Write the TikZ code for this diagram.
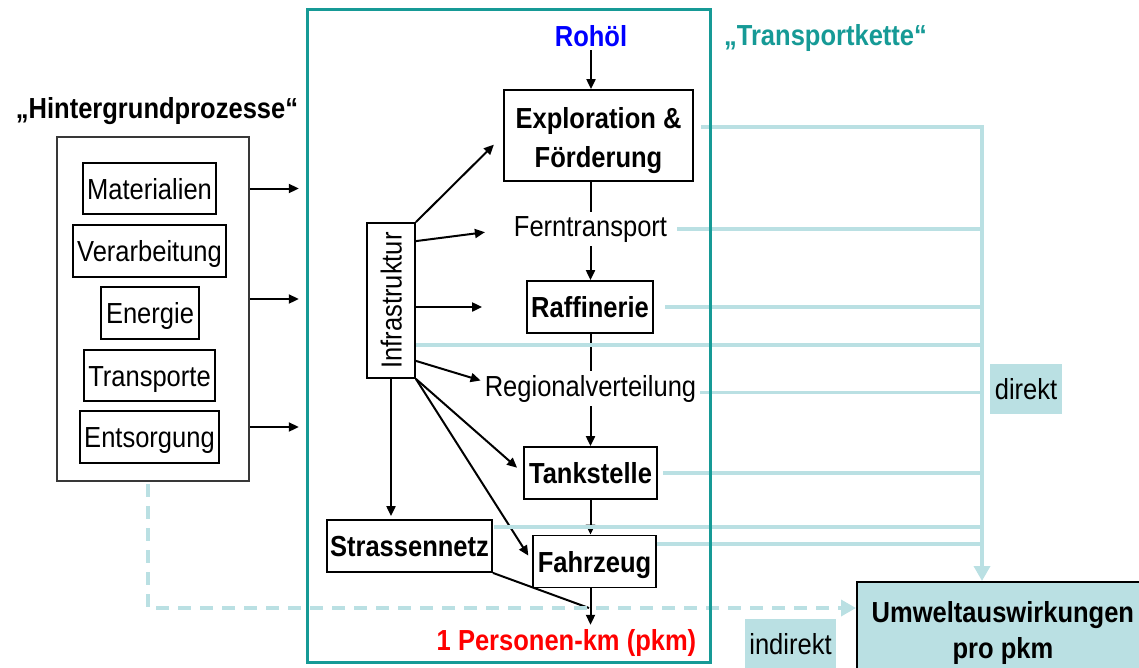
\documentclass[tikz,border=0pt]{standalone}
\usepackage{fontspec}
\setmainfont{Liberation Sans}[FakeStretch=0.88]
\usetikzlibrary{arrows.meta}

\definecolor{chainteal}{RGB}{22,154,150}
\definecolor{impactblue}{RGB}{186,224,227}
\newcommand{\chainsize}{\fontsize{29}{36}\selectfont}

\begin{document}
\begin{tikzpicture}[x=1pt,y=-1pt]

	\tikzstyle stage=[draw, line width=1.8pt, inner sep=0pt, font=\chainsize\bfseries];
	\tikzstyle source=[draw, line width=1.8pt, inner sep=0pt, font=\chainsize];
	\tikzstyle oneline=[text height=21pt, text depth=0pt];
	\tikzstyle label text=[inner sep=4pt, anchor=base, font=\chainsize];
	\tikzstyle flow line=[line width=2pt];
	\tikzstyle flow=[line width=2pt, -{Triangle[length=10pt,width=9pt]}];
	\tikzstyle impact=[line width=3.5pt, draw=impactblue];
	\tikzstyle impact tip=[-{Triangle[length=15pt,width=16pt]}];
	\tikzstyle indirect=[impact, dash pattern=on 13pt off 9pt, impact tip];
	\tikzstyle tag=[fill=impactblue, inner sep=0pt, oneline, font=\chainsize];

	\useasboundingbox (0,0) rectangle (1139,667);

	% Transportkette
	\node[inner sep=0pt, minimum width=402, minimum height=652] (chain) at (509,336) {};
	\node[label text, font=\chainsize\bfseries, text=blue] (rohoel) at (591,46) {Rohöl};
	\node[label text, font=\chainsize\bfseries, text=chainteal] (kette) at (825.5,45) {„Transportkette“};
	\node[stage, align=center, minimum width=189, minimum height=91] (expl) at (598.5,135.5) {\rule{0pt}{31pt}Exploration \&\\[3pt] Förderung};
	\node[label text] (fern) at (590.5,236) {Ferntransport};
	\node[stage, oneline, minimum width=126, minimum height=52] (raff) at (590,307) {Raffinerie};
	\node[label text] (regio) at (590.5,396) {Regionalverteilung};
	\node[stage, oneline, minimum width=133, minimum height=52] (tank) at (590.5,473) {Tankstelle};
	\node[stage, oneline, minimum width=123, minimum height=52] (fahr) at (594.5,561.5) {Fahrzeug};
	\node[stage, oneline, minimum width=165, minimum height=52] (strasse) at (409.5,546) {Strassennetz};
	\node[source, oneline, rotate=90, minimum width=155, minimum height=48] (infra) at (391,300.5) {Infrastruktur};
	\node[label text, font=\chainsize\bfseries, text=red] (pkm) at (566.5,650) {1 Personen-km (pkm)};

	% Hintergrundprozesse
	\node[label text, font=\chainsize\bfseries] (hintertitle) at (157,118) {„Hintergrundprozesse“};
	\node[draw=black!78, line width=2.4pt, minimum width=192, minimum height=344] (hinter) at (153,309) {};
	\node[source, oneline, minimum width=133, minimum height=51] (mat) at (149.5,188.5) {Materialien};
	\node[source, oneline, minimum width=153, minimum height=52] (verarb) at (149.5,251) {Verarbeitung};
	\node[source, oneline, minimum width=98, minimum height=52] (energie) at (150,313) {Energie};
	\node[source, oneline, minimum width=131, minimum height=51] (transp) at (149.5,375.5) {Transporte};
	\node[source, oneline, minimum width=139, minimum height=52] (entsorg) at (149.5,437) {Entsorgung};

	% Wirkungen
	\node[draw, line width=1.8pt, fill=impactblue, anchor=north west, align=center, inner xsep=0pt, inner ysep=20pt, minimum width=292, font=\chainsize\bfseries] (umwelt) at (856,581) {Umweltauswirkungen\\pro pkm};
	\node[tag, minimum width=72, minimum height=50] (direkt) at (1026,389) {direkt};
	\node[tag, minimum width=91, minimum height=50] (indirekt) at (790.5,644) {indirekt};
	\coordinate (bus) at (982,0);
	\coordinate (join) at (589,608);

	% Kette
	\draw[flow] (rohoel.south) -- (rohoel.south |- expl.north);
	\draw[flow line] (fern.north |- expl.south) -- (fern.north);
	\draw[flow] (fern.south) -- (fern.south |- raff.north);
	\draw[flow line] (regio.north |- raff.south) -- (regio.north);
	\draw[flow] (regio.south) -- (regio.south |- tank.north);
	\draw[flow] (tank.south) -- (tank.south |- fahr.north);
	\draw[flow] (tank.south |- fahr.south) -- (tank.south |- pkm.north);
	\draw[flow line] (strasse.south east) -- (join);

	% Infrastruktur (Knoten gedreht: south = rechts, west = unten)
	\draw[flow, shorten >=13pt] (infra.south east) -- (expl.west);
	\draw[flow, shorten >=25pt] ([yshift=-19pt]infra.south east) -- (fern.west);
	\draw[flow, shorten >=44pt] (infra.south |- raff.west) -- (raff.west);
	\draw[flow] ([yshift=18pt]infra.south west) -- ([yshift=8pt]regio.west);
	\draw[flow, shorten >=8pt] (infra.south west) -- (tank.west);
	\draw[flow, shorten >=7pt] (infra.south west) -- (fahr.west);
	\draw[flow, shorten >=3pt] (infra.west) -- (infra.west |- strasse.north);

	% Hintergrund -> Kette
	\draw[flow, shorten >=9pt] (mat -| hinter.east) -- (mat -| chain.west);
	\draw[flow, shorten >=9pt] ([yshift=10pt]hinter.east) -- ([yshift=10pt]chain.west |- hinter.east);
	\draw[flow, shorten >=9pt] ([yshift=10pt]entsorg -| hinter.east) -- ([yshift=10pt]chain.west |- entsorg);

	% direkte Wirkungen
	\draw[impact, impact tip, shorten <=7pt] ([yshift=8.5pt]expl.east) -| (bus |- umwelt.north);
	\draw[impact, shorten <=6pt] (fern.east) -- (fern.east -| bus);
	\draw[impact, shorten <=11pt] (raff.east) -- (raff.east -| bus);
	\draw[impact] ([yshift=-44.5pt]infra.south) -- ([yshift=-44.5pt]bus |- infra.south);
	\draw[impact] ([yshift=-4pt]regio.east) -- ([yshift=-4pt]bus |- regio.east);
	\draw[impact, shorten <=5pt] (tank.east) -- (tank.east -| bus);
	\draw[impact, shorten <=1pt] ([yshift=19pt]strasse.east) -- ([yshift=19pt]bus |- strasse.east);
	\draw[impact] ([yshift=17.5pt]fahr.east) -- ([yshift=17.5pt]bus |- fahr.east);

	% indirekte Wirkungen
	\draw[indirect, shorten <=2pt] ([xshift=-5pt]hinter.south) |- ([yshift=-27pt]umwelt.north west);

	\draw[chainteal, line width=3pt] (chain.north west) rectangle (chain.south east);

\end{tikzpicture}
\end{document}
